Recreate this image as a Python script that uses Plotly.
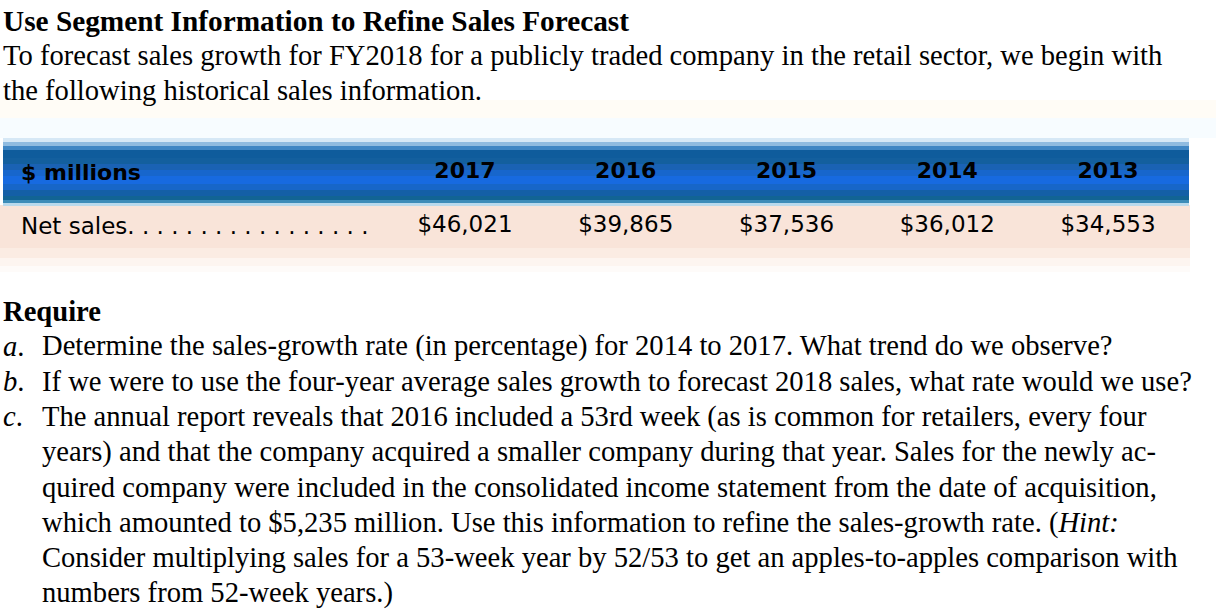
import plotly.graph_objects as go

W, H = 1216, 616

# ---- data ----
years = ["2017", "2016", "2015", "2014", "2013"]
net_sales = [46021, 39865, 37536, 36012, 34553]
row_labels = ["$ millions", "Net sales"]

title = "Use Segment Information to Refine Sales Forecast"
intro = [
    "To forecast sales growth for FY2018 for a publicly traded company in the retail sector, we begin with",
    "the following historical sales information.",
]
require_title = "Require"
items = [
    ("a", ["Determine the sales-growth rate (in percentage) for 2014 to 2017. What trend do we observe?"]),
    ("b", ["If we were to use the four-year average sales growth to forecast 2018 sales, what rate would we use?"]),
    ("c", [
        "The annual report reveals that 2016 included a 53rd week (as is common for retailers, every four",
        "years) and that the company acquired a smaller company during that year. Sales for the newly ac-",
        "quired company were included in the consolidated income statement from the date of acquisition,",
        "which amounted to $5,235 million. Use this information to refine the sales-growth rate. (<i>Hint:</i>",
        "Consider multiplying sales for a 53-week year by 52/53 to get an apples-to-apples comparison with",
        "numbers from 52-week years.)",
    ]),
]


def px(x):
    return x / W


def py(y):
    return 1 - y / H


SERIF = "Liberation Serif, Times New Roman, serif"
SANS = "DejaVu Sans, Arial, sans-serif"
PROSE = 28.6

fig = go.Figure()

# table header years
fig.add_trace(go.Scatter(
    x=years, y=[row_labels[0]] * len(years), text=years, mode="text",
    textposition="middle center",
    textfont=dict(family=SANS, size=22, color="#000000", weight="bold"),
    hoverinfo="skip", showlegend=False, cliponaxis=False,
))
# table values
fig.add_trace(go.Scatter(
    x=years, y=[row_labels[1]] * len(years),
    text=["${:,}".format(v) for v in net_sales], mode="text",
    textposition="middle center",
    textfont=dict(family=SANS, size=23, color="#000000"),
    hoverinfo="skip", showlegend=False, cliponaxis=False,
))

# background bands (blue header gradient, peach row)
shapes = []
def band(y0, y1, color, x0=3, x1=1189):
    shapes.append(dict(type="rect", xref="paper", yref="paper",
                       x0=px(x0), x1=px(x1), y0=py(y1), y1=py(y0),
                       fillcolor=color, line=dict(width=0), layer="below"))

# faint tints between intro and table
band(100, 118, "#fffcf6", 0, 1216)
band(118, 138, "#f7fcff", 0, 1216)
# peach row
band(205, 248, "#f9e4d9", 0, 1190)
band(248, 258, "#fbece3", 0, 1190)
band(258, 266, "#fdf5f0", 0, 1190)
band(266, 272, "#fefbf9", 0, 1190)
# blue header stripes
blue = [
    (138, 142, "#d6e8f6"),
    (142, 146, "#8fbbe0"),
    (146, 150, "#3f86c4"),
    (150, 158, "#0f5c9c"),
    (158, 164, "#135f9e"),
    (164, 170, "#1a62b4"),
    (170, 176, "#1766cc"),
    (176, 184, "#176ae0"),
    (184, 190, "#1766c8"),
    (190, 196, "#145fa6"),
    (196, 200, "#126494"),
    (200, 203, "#3d8cb8"),
    (203, 206, "#b9d9ec"),
]
for y0, y1, c in blue:
    band(y0, y1, c)

annotations = []
def text(x, y, s, size=PROSE, family=SERIF, weight="normal", anchor="left"):
    annotations.append(dict(xref="paper", yref="paper", x=px(x), y=py(y),
                            xanchor=anchor, yanchor="middle", showarrow=False,
                            text=s, align="left", borderpad=0, borderwidth=0,
                            font=dict(family=family, size=size, color="#000000",
                                      weight=weight)))

text(3, 21, title, size=29.3, weight="bold")
for i, line in enumerate(intro):
    text(3, 55 + 35.3 * i, line)

# table row labels
text(21, 172, row_labels[0], size=22, family=SANS, weight="bold")
text(21, 226, row_labels[1] + "." + " ." * 16, size=23, family=SANS)

text(3, 311, require_title, weight="bold")
y = 346
for letter, lines in items:
    text(3, y, "<i>%s</i>." % letter)
    for line in lines:
        text(42, y, line)
        y += 35.3

fig.update_layout(
    width=W, height=H, autosize=False,
    margin=dict(l=0, r=0, t=0, b=0, pad=0),
    paper_bgcolor="#ffffff", plot_bgcolor="rgba(0,0,0,0)",
    shapes=shapes, annotations=annotations,
    xaxis=dict(type="category", categoryorder="array", categoryarray=years,
               range=[-0.5, len(years) - 0.5], visible=False, fixedrange=True,
               domain=[384.6 / W, 1188.4 / W]),
    yaxis=dict(type="category", categoryorder="array",
               categoryarray=[row_labels[1], row_labels[0]],
               range=[-0.5, 1.5], visible=False, fixedrange=True,
               domain=[py(253), py(145)]),
    hovermode=False,
)

fig.write_html("out.html", config={"displayModeBar": False},
               post_script="document.body.style.margin='0';document.body.style.overflow='hidden';")
